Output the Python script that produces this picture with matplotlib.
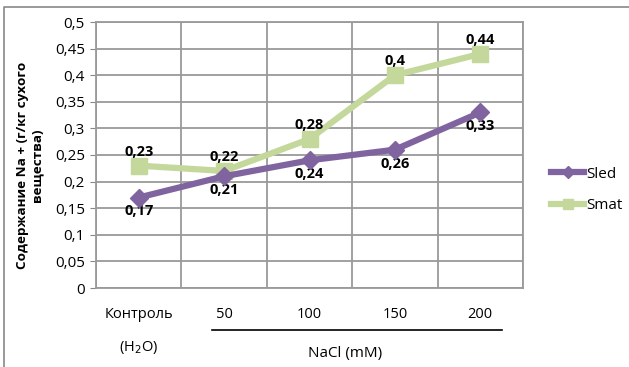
import numpy as np
import matplotlib.pyplot as plt
from matplotlib.lines import Line2D

categories = ["Контроль", "50", "100", "150", "200"]
sled = [0.17, 0.21, 0.24, 0.26, 0.33]
smat = [0.23, 0.22, 0.28, 0.40, 0.44]
sled_labels = ["0,17", "0,21", "0,24", "0,26", "0,33"]
smat_labels = ["0,23", "0,22", "0,28", "0,4", "0,44"]
yticks = [0, 0.05, 0.1, 0.15, 0.2, 0.25, 0.3, 0.35, 0.4, 0.45, 0.5]

plt.rcParams['font.family'] = ['Open Sans', 'DejaVu Sans']

fig = plt.figure(figsize=(6.29, 3.67), dpi=100)
ax = fig.add_axes([96/629, 1-288/367, 427/629, 266/367])

x = np.arange(len(categories))
purple = '#7f64a0'
green = '#c4d89c'
ax.plot(x, smat, color=green, lw=4.5, marker='s', ms=11, zorder=3, label='Smat')
ax.plot(x, sled, color=purple, lw=4.5, marker='D', ms=9, zorder=4, label='Sled')

for xi, v, t in zip(x, sled, sled_labels):
    ax.annotate(t, (xi, v), xytext=(0, -10), textcoords='offset points',
                ha='center', va='center', fontsize=10.5, fontweight='bold')
for xi, v, t in zip(x, smat, smat_labels):
    ax.annotate(t, (xi, v), xytext=(0, 10), textcoords='offset points',
                ha='center', va='center', fontsize=10.5, fontweight='bold')

ax.set_xlim(-0.5, len(categories) - 0.5)
ax.set_ylim(0, 0.5)
ax.set_yticks(yticks)
ax.set_yticklabels([("%g" % v).replace('.', ',') for v in yticks], fontsize=11)
ax.set_xticks(x)
ax.set_xticklabels(categories, fontsize=10.5)
ax.tick_params(axis='x', length=0, pad=14)
ax.tick_params(axis='y', length=4, color='#888888', pad=4)
ax.set_xticks(np.arange(-0.5, len(categories)), minor=True)
ax.tick_params(axis='x', which='minor', length=0)
ax.grid(True, axis='y', color='#9a9a9a', lw=1.3)
ax.grid(True, axis='x', which='minor', color='#9a9a9a', lw=1.3)
for s in ax.spines.values():
    s.set_color('#9a9a9a')
    s.set_linewidth(1.3)
ax.set_axisbelow(True)

ax.set_ylabel("Содержание Na + (г/кг сухого\nвещества)", fontsize=9.7,
              fontweight='bold', linespacing=1.15)
ax.yaxis.set_label_coords(-0.124, 0.462)

# lower category text
fig.text(139/629, 1-347/367, "(H$_2$O)", ha='center', va='center', fontsize=10.5)
fig.add_artist(Line2D([212/629, 502/629], [1-330/367, 1-330/367], color='black', lw=1.2))
fig.text(345/629, 1-353/367, "NaCl (mM)", ha='center', va='center', fontsize=11)

# outer border
fig.add_artist(Line2D([4/629, 4/629, 1], [0, 1-7/367, 1-7/367], color='#888888', lw=1.2))

h, l = ax.get_legend_handles_labels()
fig.legend(h[::-1], l[::-1], loc='center left', bbox_to_anchor=(537/629, 1-190/367),
           frameon=False, fontsize=11, handlelength=2.2, handletextpad=0.1,
           labelspacing=1.1, markerscale=0.7)

fig.savefig("out.png", dpi=100)
